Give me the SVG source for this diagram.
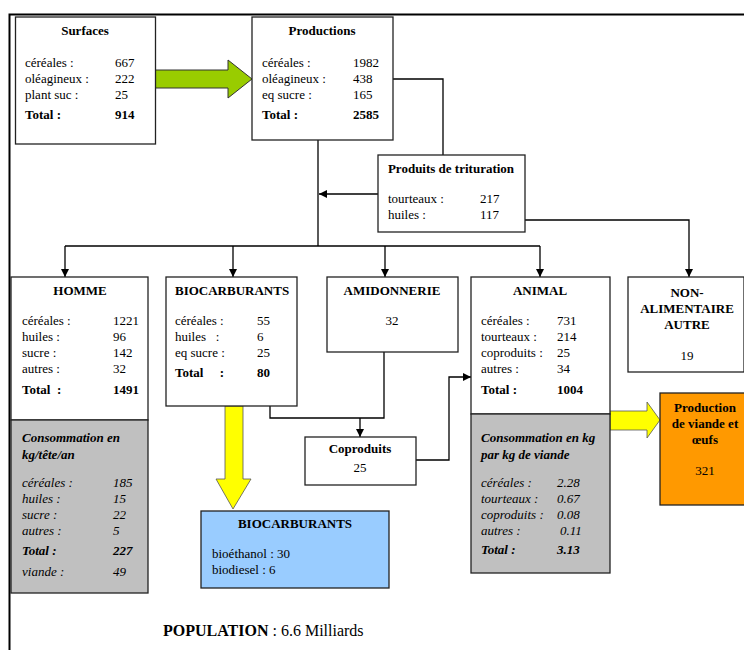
<svg xmlns="http://www.w3.org/2000/svg" width="744" height="650" viewBox="0 0 744 650" font-family="'Liberation Serif', 'Tinos', 'DejaVu Serif', serif">
<defs>
<marker id="ah" viewBox="0 0 8 8" refX="8" refY="4" markerWidth="8" markerHeight="8" markerUnits="userSpaceOnUse" orient="auto">
<path d="M0,0 L8,4 L0,8 z" fill="#000"/>
</marker>
<style>
text{font-family:'Liberation Serif','Tinos','DejaVu Serif',serif;font-size:13px;fill:#000}
.b{font-weight:bold}
.i{font-style:italic}
.m{text-anchor:middle}
.box{fill:#fff;stroke:#222;stroke-width:1.3}
.gray{fill:#c0c0c0;stroke:#222;stroke-width:1.3}
.ln{fill:none;stroke:#000;stroke-width:1.3}
</style>
</defs>
<rect width="744" height="650" fill="#fff"/>
<path d="M9.5,650 V14.5 H744" fill="none" stroke="#000" stroke-width="2"/>

<g id="connectors">
<path class="ln" d="M393,79 H443 V155"/>
<path class="ln" d="M318,140 V246"/>
<path class="ln" d="M378,194 H319" marker-end="url(#ah)"/>
<path class="ln" d="M525,220 H689 V277" marker-end="url(#ah)"/>
<path class="ln" d="M65,246 H540"/>
<path class="ln" d="M65,246 V277" marker-end="url(#ah)"/>
<path class="ln" d="M233,246 V277" marker-end="url(#ah)"/>
<path class="ln" d="M385,246 V277" marker-end="url(#ah)"/>
<path class="ln" d="M540,246 V277" marker-end="url(#ah)"/>
<path class="ln" d="M270,406 V418 H384 V352"/>
<path class="ln" d="M360,418 V437" marker-end="url(#ah)"/>
<path class="ln" d="M416,460 H449 V377 H471" marker-end="url(#ah)"/>
<path d="M155,70 H228 V60 L252,79 L228,98 V88 H155 z" fill="#99cc00" stroke="#333" stroke-width="1"/>
<path d="M225,406 H243 V479 H251 L233,509 L216,479 H225 z" fill="#ffff00" stroke="#555" stroke-width="0.8"/>
<path d="M610,411 H647 V402 L660,420 L647,438 V430 H610 z" fill="#ffff00" stroke="#555" stroke-width="0.8"/>
</g>

<g id="surfaces">
<rect class="box" x="15.5" y="17" width="140" height="127"/>
<text class="b m" x="85" y="35">Surfaces</text>
<text x="25" y="67">céréales :</text><text x="115" y="67">667</text>
<text x="25" y="83">oléagineux :</text><text x="115" y="83">222</text>
<text x="25" y="99">plant suc :</text><text x="115" y="99">25</text>
<text class="b" x="25" y="119">Total :</text><text class="b" x="115" y="119">914</text>
</g>

<g id="productions">
<rect class="box" x="252" y="17" width="141" height="123"/>
<text class="b m" x="322" y="35">Productions</text>
<text x="262" y="67">céréales :</text><text x="353" y="67">1982</text>
<text x="262" y="83">oléagineux :</text><text x="353" y="83">438</text>
<text x="262" y="99">eq sucre :</text><text x="353" y="99">165</text>
<text class="b" x="262" y="119">Total :</text><text class="b" x="353" y="119">2585</text>
</g>

<g id="trituration">
<rect class="box" x="378" y="155" width="147" height="77"/>
<text class="b m" x="451" y="173">Produits de trituration</text>
<text x="388" y="203">tourteaux :</text><text x="480" y="203">217</text>
<text x="388" y="219">huiles :</text><text x="480" y="219">117</text>
</g>

<g id="homme">
<rect class="box" x="11" y="277" width="137" height="143"/>
<rect class="gray" x="11" y="420" width="137" height="173"/>
<text class="b m" x="80" y="295">HOMME</text>
<text x="22" y="325">céréales :</text><text x="113" y="325">1221</text>
<text x="22" y="341">huiles :</text><text x="113" y="341">96</text>
<text x="22" y="357">sucre :</text><text x="113" y="357">142</text>
<text x="22" y="373">autres :</text><text x="113" y="373">32</text>
<text class="b" x="22" y="394" xml:space="preserve">Total  :</text><text class="b" x="113" y="394">1491</text>
<text class="b i" x="22" y="442">Consommation en</text>
<text class="b i" x="22" y="459">kg/tête/an</text>
<text class="i" x="22" y="487">céréales :</text><text class="i" x="113" y="487">185</text>
<text class="i" x="22" y="503">huiles :</text><text class="i" x="113" y="503">15</text>
<text class="i" x="22" y="519">sucre :</text><text class="i" x="113" y="519">22</text>
<text class="i" x="22" y="535">autres :</text><text class="i" x="113" y="535">5</text>
<text class="b i" x="22" y="555">Total :</text><text class="b i" x="113" y="555">227</text>
<text class="i" x="22" y="576">viande :</text><text class="i" x="113" y="576">49</text>
</g>

<g id="biocarburants">
<rect class="box" x="166" y="277" width="131" height="129"/>
<text class="b" x="175" y="295">BIOCARBURANTS</text>
<text x="175" y="325">céréales :</text><text x="257" y="325">55</text>
<text x="175" y="341" xml:space="preserve">huiles   :</text><text x="257" y="341">6</text>
<text x="175" y="357">eq sucre :</text><text x="257" y="357">25</text>
<text class="b" x="175" y="377" xml:space="preserve">Total     :</text><text class="b" x="257" y="377">80</text>
</g>

<g id="amidonnerie">
<rect class="box" x="327" y="277" width="131" height="75"/>
<text class="b m" x="392" y="295">AMIDONNERIE</text>
<text class="m" x="392" y="325">32</text>
</g>

<g id="animal">
<rect class="box" x="471" y="277" width="139" height="137"/>
<rect class="gray" x="471" y="414" width="139" height="159"/>
<text class="b m" x="540" y="295">ANIMAL</text>
<text x="481" y="325">céréales :</text><text x="557" y="325">731</text>
<text x="481" y="341">tourteaux :</text><text x="557" y="341">214</text>
<text x="481" y="357">coproduits :</text><text x="557" y="357">25</text>
<text x="481" y="373">autres :</text><text x="557" y="373">34</text>
<text class="b" x="481" y="394">Total :</text><text class="b" x="557" y="394">1004</text>
<text class="b i" x="481" y="442">Consommation en kg</text>
<text class="b i" x="481" y="459">par kg de viande</text>
<text class="i" x="481" y="487">céréales :</text><text class="i" x="557" y="487">2.28</text>
<text class="i" x="481" y="503">tourteaux :</text><text class="i" x="557" y="503">0.67</text>
<text class="i" x="481" y="519">coproduits :</text><text class="i" x="557" y="519">0.08</text>
<text class="i" x="481" y="535">autres :</text><text class="i" x="560" y="535">0.11</text>
<text class="b i" x="481" y="554">Total :</text><text class="b i" x="557" y="554">3.13</text>
</g>

<g id="non-alimentaire">
<rect class="box" x="628" y="277" width="116" height="95"/>
<text class="b m" x="687" y="297">NON-</text>
<text class="b m" x="687" y="313">ALIMENTAIRE</text>
<text class="b m" x="687" y="329">AUTRE</text>
<text class="m" x="687" y="360">19</text>
</g>

<g id="viande">
<rect x="660" y="393" width="85" height="112" fill="#ff9900" stroke="#222" stroke-width="1.3"/>
<text class="b m" x="705" y="412">Production</text>
<text class="b m" x="705" y="428">de viande et</text>
<text class="b m" x="705" y="444">œufs</text>
<text class="m" x="705" y="475">321</text>
</g>

<g id="coproduits">
<rect class="box" x="305" y="437" width="111" height="48"/>
<text class="b m" x="360" y="453">Coproduits</text>
<text class="m" x="360" y="472">25</text>
</g>

<g id="biocarb-out">
<rect x="201" y="511" width="188" height="77" fill="#99ccff" stroke="#222" stroke-width="1.3"/>
<text class="b m" x="295" y="528">BIOCARBURANTS</text>
<text x="212" y="558">bioéthanol : 30</text>
<text x="212" y="574">biodiesel : 6</text>
</g>

<g id="population">
<text x="163" y="636" style="font-size:16px"><tspan class="b">POPULATION</tspan> : 6.6 Milliards</text>
</g>
</svg>
